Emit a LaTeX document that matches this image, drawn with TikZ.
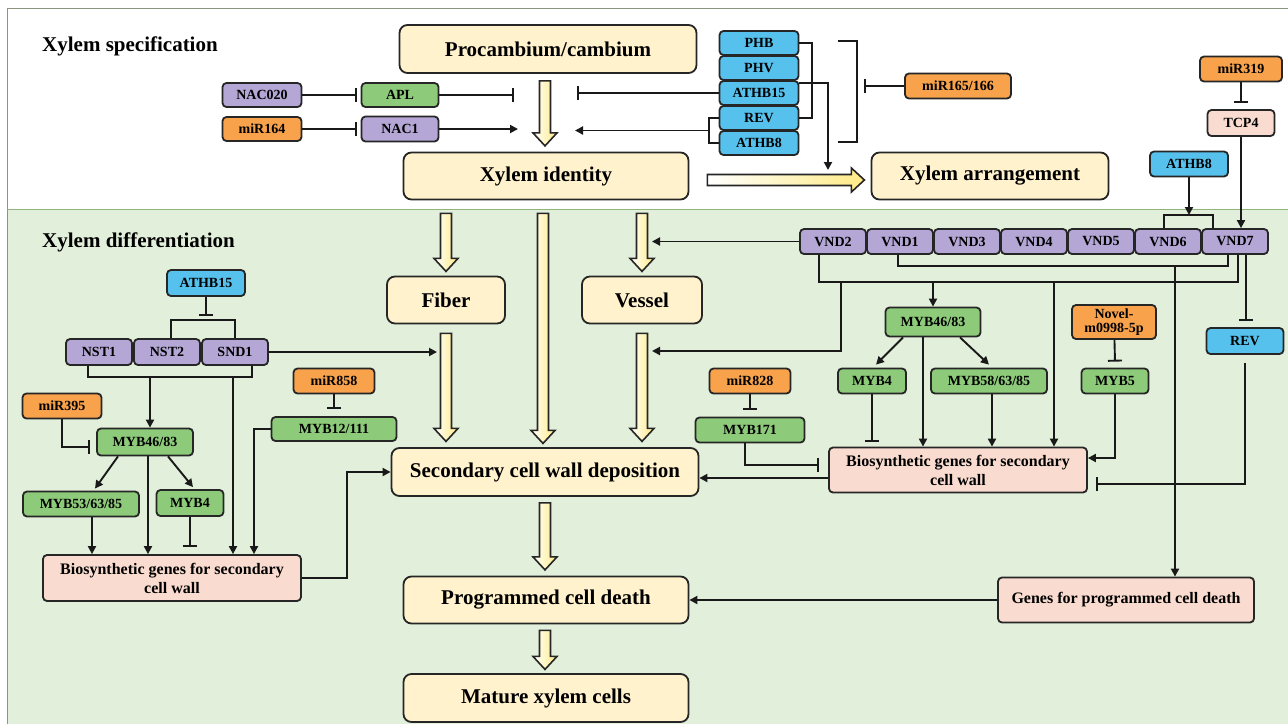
\documentclass[tikz,border=0pt]{standalone}
\usepackage{fontspec}
\setmainfont{Liberation Serif}
\usepackage{tikz}
\usetikzlibrary{arrows.meta}
\usetikzlibrary{calc}

\definecolor{stagefill}{HTML}{FFF2CC}
\definecolor{nacpurple}{HTML}{B4A7D6}
\definecolor{mybgreen}{HTML}{8DCB7A}
\definecolor{hdblue}{HTML}{56C1EC}
\definecolor{mirorange}{HTML}{F8A24C}
\definecolor{genepink}{HTML}{F9DCCF}
\definecolor{diffbg}{HTML}{E2EFDA}
\definecolor{fatyellow}{HTML}{FFEB85}
\definecolor{framegray}{HTML}{8A9680}
\definecolor{sepgreen}{HTML}{8FB47E}

% hollow block arrow: start, length, angle
\newcommand{\fatarrow}[3]{%
  \begin{scope}[shift={($#1$)}, rotate=#3]
    \path[fatarr] (0,-5.5) -- ({#2-13},-5.5) -- ({#2-13},-12) -- (#2,0)
      -- ({#2-13},12) -- ({#2-13},5.5) -- (0,5.5) -- cycle;
  \end{scope}}

\begin{document}
\begin{tikzpicture}[x=1pt, y=-1pt,
	every node/.style={inner sep=0pt, align=center, text=black},
	box/.style={draw=black!85, line width=1.8pt, rounded corners=4pt,
		font=\fontsize{14}{14}\selectfont\bfseries},
	stage/.style={box, fill=stagefill, rounded corners=8pt,
		font=\fontsize{21}{24}\selectfont\bfseries},
	gene/.style={box, fill=genepink, font=\fontsize{16}{19}\selectfont\bfseries},
	nac/.style={box, fill=nacpurple},
	myb/.style={box, fill=mybgreen},
	hd/.style={box, fill=hdblue},
	mir/.style={box, fill=mirorange},
	sz/.style 2 args={minimum width=#1pt, minimum height=#2pt},
	title/.style={anchor=west, font=\fontsize{21}{23}\selectfont\bfseries},
	link/.style={line width=1.9pt, draw=black!90},
	act/.style={link, -{Triangle[length=8pt, width=8pt]}},
	inh/.style={link, -{Bar[width=14pt]}},
	fatarr/.style={draw=black!85, line width=1.6pt, left color=white, right color=fatyellow}]

	\useasboundingbox (0,0) rectangle (1288,724);
	\fill[diffbg] (7,209) rectangle (1288,724);
	\draw[framegray, line width=1pt] (1288,8) -- (7,8) -- (7,724);
	\draw[sepgreen, line width=1pt] (7,209) -- (1288,209);

	\node[title] (spec) at (42,46) {Xylem specification};
	\node[title] (diff) at (42,242) {Xylem differentiation};

	% main stages
	\node[stage, sz={297}{48}] (proc) at (548,49) {Procambium/cambium};
	\node[stage, sz={285}{47}] (ident) at (546,176) {Xylem identity};
	\node[stage, sz={237}{47}] (arrange) at (990,176) {Xylem arrangement};
	\node[stage, sz={118}{47}] (fiber) at (446,300) {Fiber};
	\node[stage, sz={120}{47}] (vessel) at (642,300) {Vessel};
	\node[stage, sz={307}{48}] (scw) at (545,472) {Secondary cell wall deposition};
	\node[stage, sz={285}{47}] (pcd) at (546,600) {Programmed cell death};
	\node[stage, sz={285}{48}] (mature) at (546,698) {Mature xylem cells};

	\fatarrow{(proc.south)+(-3,7)}{65}{-90}
	\fatarrow{(ident.east)+(18,4)}{157}{0}
	\fatarrow{(fiber.north |- ident.south)+(0,13)}{58}{-90}
	\fatarrow{(ident.south)+(-3,13)}{230}{-90}
	\fatarrow{(vessel.north |- ident.south)+(0,13)}{58}{-90}
	\fatarrow{(fiber.south)+(0,9)}{108}{-90}
	\fatarrow{(vessel.south)+(0,9)}{108}{-90}
	\fatarrow{(scw.south)+(0,6)}{67}{-90}
	\fatarrow{(pcd.south)+(-1,6)}{39}{-90}

	% specification
	\node[nac, sz={79}{24}] (nac020) at (262,95) {NAC020};
	\node[myb, sz={77}{24}] (apl) at (400,95) {APL};
	\node[mir, sz={79}{24}] (mir164) at (262,129) {miR164};
	\node[nac, sz={77}{25}] (nac1) at (400,129) {NAC1};

	\foreach \n/\y/\t in {phb/43/PHB, phv/68/PHV, athb15/93/ATHB15, rev/118/REV, athb8/143/ATHB8}
		\node[hd, sz={79}{24}] (\n) at (759,\y) {\t};

	\node[mir, sz={106}{25}] (mir165) at (958,86) {miR165/166};
	\node[mir, sz={82}{25}] (mir319) at (1241,69) {miR319};
	\node[box, fill=genepink, sz={67}{26}] (tcp4) at (1241,123) {TCP4};
	\node[hd, sz={78}{25}] (athb8b) at (1189,164) {ATHB8};

	\coordinate (aplend) at (514,95);
	\coordinate (nac1end) at (518,129);
	\coordinate (hdinh) at (577,93);
	\coordinate (hdact) at (575,130.5);
	\coordinate (arrend) at (828,170);
	\coordinate (brk) at (864,86);

	\draw[inh] (nac020.east) -- ($(apl.west)+(-4,0)$);
	\draw[inh] (mir164.east) -- ($(nac1.west)+(-4,0)$);
	\draw[inh] (apl.east) -- (aplend);
	\draw[act] (nac1.east) -- (nac1end);
	\draw[inh] (athb15.west) -- (hdinh);
	\draw[link] (phb.east) -- ++(13,0) |- (rev.east);
	\draw[link] (rev.west) -- ++(-10,0) |- (athb8.west);
	\draw[act] ($(rev.west)!0.5!(athb8.west)+(-10,0)$) -- (hdact);
	\draw[act] ($(athb15.north east)+(0,3)$) -| (arrend);
	\draw[link] (838,41) -- (857,41) -- (857,142) -- (838,142);
	\draw[inh] (mir165.west) -- (brk);
	\draw[inh] (mir319) -- ($(tcp4.north)+(0,-6)$);

	% differentiation, vessel side
	\foreach \n [count=\i] in {2,1,3,4,5,6,7}
		\node[nac, sz={66}{25}] (vnd\n) at ({833+67*(\i-1)},241.5) {VND\n};

	\coordinate (vb) at (1189,215);
	\draw[link] ($(vnd6.north)+(-4,0)$) |- (vb) -| ($(vnd7.north west)+(12,0)$);
	\draw[act] (athb8b) -- (vb);
	\draw[act] (tcp4) -- (tcp4 |- vnd7.north);

	\node[myb, sz={95}{29}] (myb46r) at (933,322) {MYB46/83};
	\node[myb, sz={68}{25}] (myb4r) at (872,381) {MYB4};
	\node[myb, sz={116}{25}] (myb58) at (989,381) {MYB58/63/85};
	\node[mir, sz={84}{34}] (novel) at (1114,322) {Novel-\\m0998-5p};
	\node[myb, sz={67}{25}] (myb5) at (1115,381) {MYB5};
	\node[hd, sz={77}{26}] (rev2) at (1245,341) {REV};
	\node[mir, sz={81}{25}] (mir828) at (750,381) {miR828};
	\node[myb, sz={109}{25}] (myb171) at (750,430) {MYB171};
	\node[gene, sz={258}{45}] (bior) at (958,470) {Biosynthetic genes for secondary\\cell wall};
	\node[gene, sz={256}{45}] (gpcd) at (1126,600) {Genes for programmed cell death};

	\coordinate (l1) at ($(vnd1.south)+(0,11)$);
	\coordinate (l2) at ($(vnd2.south)+(0,27)$);
	\coordinate (vesin) at (652,241.5);
	\coordinate (vesscw) at (652,351);

	\draw[act] (vnd2.west) -- (vesin);
	\draw[link] ($(vnd1.south)+(-2,0)$) -- ++(0,11) -| ($(vnd7.south)+(-7,0)$);
	\draw[link] ($(vnd2.south)+(-14,0)$) -- ++(0,27) -| ($(vnd7.south)+(3,0)$);
	\draw[act] (myb46r.north |- l2) -- (myb46r.north);
	\draw[act] ($(l2)+(8,0)$) |- (vesscw);
	\draw[act] ($(vnd4.south |- l2)+(20,0)$) -- ($(vnd4.south |- bior.north)+(20,0)$);
	\draw[act] ($(vnd6.south |- l1)+(7,0)$) -- ($(vnd6.south |- gpcd.north)+(7,0)$);
	\draw[inh] ($(vnd7.south)+(11,0)$) -- ($(vnd7.south |- rev2.north)+(11,-6)$);
	\draw[inh] ($(rev2.south)+(0,8)$) |- ($(bior.east)+(8,14)$);

	\draw[act] ($(myb46r.south)+(-30,0)$) -- ($(myb4r.north)+(4,-3)$);
	\draw[act] ($(myb46r.south)+(27,0)$) -- ($(myb58.north)+(0,-3)$);
	\draw[act] ($(myb46r.south)+(-10,0)$) -- ($(myb46r.south |- bior.north)+(-10,0)$);
	\draw[inh] (myb4r) -- ($(myb4r |- bior.north)+(0,-5)$);
	\draw[act] ($(myb58.south)+(3,0)$) -- ($(myb58.south |- bior.north)+(3,0)$);
	\draw[inh] (novel) -- ($(myb5.north)+(0,-6)$);
	\draw[act] (myb5.south) |- ($(bior.east)+(0,-12)$);
	\draw[inh] (mir828) -- ($(myb171.north)+(0,-7)$);
	\draw[inh] ($(myb171.south)+(-5,0)$) |- ($(bior.west)+(-9,-5)$);
	\draw[act] ($(bior.west)+(0,8)$) -- ($(scw.east)+(0,6)$);
	\draw[act] (gpcd.west) -- (pcd.east);

	% differentiation, fiber side
	\node[hd, sz={78}{26}] (athb15b) at (206,283) {ATHB15};
	\node[nac, sz={66}{26}] (nst1) at (99,352) {NST1};
	\node[nac, sz={66}{26}] (nst2) at (167,352) {NST2};
	\node[nac, sz={66}{26}] (snd1) at (235,352) {SND1};
	\node[mir, sz={79}{25}] (mir395) at (62,406) {miR395};
	\node[myb, sz={96}{27}] (myb46l) at (145,442) {MYB46/83};
	\node[myb, sz={116}{25}] (myb53) at (81,504) {MYB53/63/85};
	\node[myb, sz={67}{26}] (myb4l) at (190,503) {MYB4};
	\node[mir, sz={81}{25}] (mir858) at (334,381) {miR858};
	\node[myb, sz={125}{24}] (myb12) at (334,429) {MYB12/111};
	\node[gene, sz={258}{46}] (biol) at (172,578) {Biosynthetic genes for secondary\\cell wall};

	\coordinate (nb) at (150,376);
	\coordinate (nc) at (233,376);
	\coordinate (fibin) at (437,352);

	\draw[inh] (athb15b) -- ($(athb15b.south)+(0,19)$);
	\draw[link] ($(nst2.north)+(4,0)$) -- ++(0,-18) -| (snd1.north);
	\draw[link] ($(nst1.south)+(-11,0)$) -- ++(0,11) -| ($(snd1.south)+(17,0)$);
	\draw[act] (nb) -- (nb |- myb46l.north);
	\draw[act] (nc) -- (nc |- biol.north);
	\draw[act] (snd1.east) -- (fibin);
	\draw[inh] (mir395.south) |- ($(myb46l.west)+(-6,5)$);
	\draw[act] ($(myb46l.south)+(-27,0)$) -- ($(myb53.north)+(14,-2)$);
	\draw[act] ($(myb46l.south)+(23,0)$) -- ($(myb4l.north)+(3,-2)$);
	\draw[act] ($(myb46l.south)+(3,0)$) -- ($(myb46l.south |- biol.north)+(3,0)$);
	\draw[act] ($(myb53.south)+(11,0)$) -- ($(myb53.south |- biol.north)+(11,0)$);
	\draw[inh] (myb4l) -- ($(myb4l |- biol.north)+(0,-7)$);
	\draw[inh] (mir858) -- ($(myb12.north)+(0,-7)$);
	\draw[act] (myb12.west) -| ($(biol.north)+(82,0)$);
	\draw[act] (biol.east) -- ++(45,0) |- (scw.west);
\end{tikzpicture}
\end{document}
